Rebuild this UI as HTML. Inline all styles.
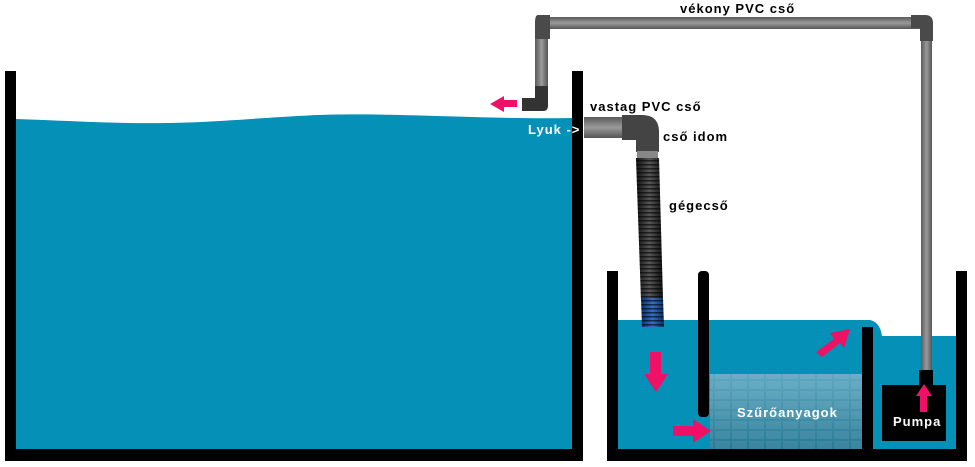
<!DOCTYPE html>
<html><head><meta charset="utf-8"><style>
html,body{margin:0;padding:0;background:#fff;width:975px;height:467px;overflow:hidden}
text{font-family:"Liberation Sans",sans-serif;font-weight:bold;font-size:13px;letter-spacing:1px}
</style></head><body>
<svg width="975" height="467" viewBox="0 0 975 467" xmlns="http://www.w3.org/2000/svg">
<defs>
<linearGradient id="pv" x1="0" x2="1"><stop offset="0" stop-color="#5a5a5a"/><stop offset=".5" stop-color="#9a9a9a"/><stop offset="1" stop-color="#555"/></linearGradient>
<linearGradient id="ph" x1="0" y1="0" x2="0" y2="1"><stop offset="0" stop-color="#5a5a5a"/><stop offset=".5" stop-color="#9a9a9a"/><stop offset="1" stop-color="#555"/></linearGradient>
<linearGradient id="hose" x1="0" x2="1"><stop offset="0" stop-color="#111"/><stop offset=".5" stop-color="#555"/><stop offset="1" stop-color="#111"/></linearGradient>
<linearGradient id="hoseb" x1="0" x2="1"><stop offset="0" stop-color="#0a2f6a"/><stop offset=".5" stop-color="#3a70c0"/><stop offset="1" stop-color="#0a2f6a"/></linearGradient>
<linearGradient id="filt" x1="0" y1="0" x2="0" y2="1"><stop offset="0" stop-color="#6cc0dc"/><stop offset="1" stop-color="#2e8aaa"/></linearGradient>
<pattern id="rib" width="8" height="4" patternUnits="userSpaceOnUse"><rect width="8" height="1.5" fill="#000" opacity=".6"/></pattern>
<pattern id="tiles" width="17" height="10" patternUnits="userSpaceOnUse"><rect width="17" height="10" fill="#000" opacity=".12"/><rect x="1" y="1" width="15" height="8" fill="#fff" opacity=".08"/></pattern>
</defs>
<path d="M16 119 C80 121 140 126 220 121 S320 113 400 115 S520 119 573 118 L573 450 L16 450 Z" fill="#0590b8"/>
<rect x="5" y="71" width="11" height="390" fill="#000"/>
<rect x="572" y="71" width="11" height="390" fill="#000"/>
<rect x="5" y="449" width="578" height="12" fill="#000"/>
<path d="M617 320 L870 320 Q880 322 882 336 L958 336 L958 450 L617 450 Z" fill="#0590b8"/>
<rect x="710" y="374" width="152" height="76" fill="url(#filt)"/>
<rect x="710" y="374" width="152" height="76" fill="url(#tiles)"/>
<rect x="607" y="271" width="11" height="190" fill="#000"/>
<rect x="698" y="271" width="11" height="146" rx="4" fill="#000"/>
<rect x="862" y="327" width="11" height="124" fill="#000"/>
<rect x="956" y="271" width="11" height="190" fill="#000"/>
<rect x="607" y="449" width="360" height="12" fill="#000"/>
<rect x="882" y="385" width="64" height="56" fill="#000"/>
<rect x="535" y="22" width="13" height="78" fill="url(#pv)"/>
<rect x="541" y="17" width="390" height="12" fill="url(#ph)"/>
<rect x="921" y="22" width="11" height="352" fill="url(#pv)"/>
<rect x="919" y="370" width="14" height="15" fill="#000"/>
<path d="M538 15 h12 v24 h-15 v-16 q0-8 3-8z" fill="#4a4a4a"/>
<path d="M911 15 h14 q8 0 8 8 v18 h-13 v-13 h-9z" fill="#4a4a4a"/>
<path d="M522 98 h13 v-12 h13 v20 q0 5-5 5 h-21z" fill="#333"/>
<rect x="584" y="117" width="56" height="21" fill="url(#ph)"/>
<path d="M622 115 h20 q17 0 17 17 v20 h-23 v-12 h-14z" fill="#444"/>
<rect x="637" y="151" width="21" height="8" fill="#888"/>
<path d="M636 158 L659 158 L663 300 L641 300 Z" fill="url(#hose)"/>
<path d="M636 158 L659 158 L663 300 L641 300 Z" fill="url(#rib)"/>
<path d="M641 298 L663 298 L664 327 L642 327 Z" fill="url(#hoseb)"/>
<path d="M641 298 L663 298 L664 327 L642 327 Z" fill="url(#rib)"/>
<g fill="#ee1166">
<path d="M517 100 v7 h-13 v5 l-14 -8 l14 -8 v4z"/>
<path d="M650 352 h11 v22 h7 l-12 18 l-12 -18 h6z"/>
<path d="M673 426 h20 v-7 l18 12 l-18 12 v-7 h-20z"/>
<path d="M816 352 l18 -13 l-4 -6 l20 -4 l-6 19 l-4 -5 l-18 14z"/>
<path d="M920 412 h7 v-16 h5 l-8 -12 l-8 12 h4z"/>
</g>
<text x="680" y="13">vékony PVC cső</text>
<text x="590" y="111">vastag PVC cső</text>
<text x="663" y="141">cső idom</text>
<text x="669" y="210">gégecső</text>
<text x="528" y="134" fill="#fff" font-size="12">Lyuk -&gt;</text>
<text x="737" y="417" fill="#fff">Szűrőanyagok</text>
<text x="893" y="426" fill="#fff">Pumpa</text>
</svg>
</body></html>
